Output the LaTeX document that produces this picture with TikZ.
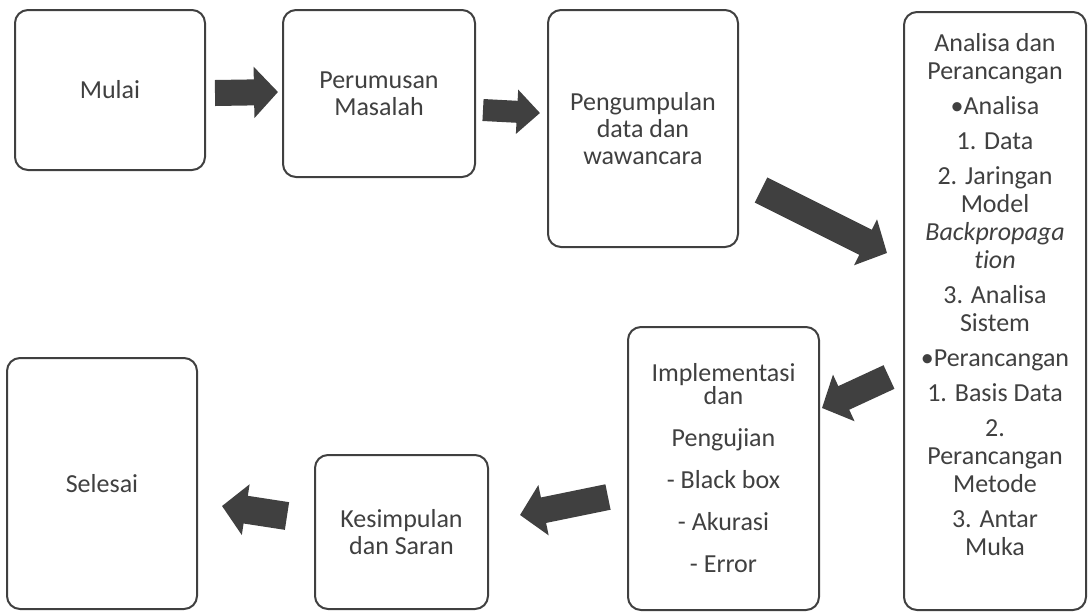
\documentclass[tikz,border=0pt]{standalone}
\usepackage{fontspec}
\setmainfont{Carlito}[Ligatures=NoCommon]
\usepackage{xcolor}
\usetikzlibrary{arrows.meta,positioning}
\definecolor{inkgrey}{HTML}{404040}

\begin{document}
\begin{tikzpicture}[
  x=0.5pt, y=-0.5pt,
  stage/.style={rectangle, draw=inkgrey, line width=1pt, rounded corners=6.5pt, align=center, text=inkgrey, font=\fontsize{13}{13.5}\selectfont},
  stagetext/.style={inner sep=0pt, align=center, text=inkgrey},
  blockarrow/.style={draw=inkgrey, line width=13pt, -{Triangle[length=12pt, width=25pt]}}
]
  \useasboundingbox (0,0) rectangle (1088,612);

  \node[stage, minimum width=95pt, minimum height=80pt] (mulai) at (110,90) {Mulai};
  \node[stage, minimum width=96pt, minimum height=83.5pt] (perumusan) at (379,93.5) {Perumusan\\Masalah};
  \node[stage, minimum width=95pt, minimum height=118.5pt] (pengumpulan) at (643,128.5) {Pengumpulan\\data dan\\wawancara};
  \node[stage, minimum width=91pt, minimum height=299pt] (analisa) at (995,311) {};
  \node[stagetext, font=\fontsize{13}{14}\selectfont, below=11pt of analisa.north] (analisaIsi) {Analisa dan\\Perancangan\\[3.5pt]
    •Analisa\\[3.5pt]
    1. Data\\[3.5pt]
    2. Jaringan\\Model\\\textit{Backpropaga}\\\textit{tion}\\[3.5pt]
    3. Analisa\\Sistem\\[3.5pt]
    •Perancangan\\[3.5pt]
    1. Basis Data\\[3.5pt]
    2.\\Perancangan\\Metode\\[3.5pt]
    3. Antar\\Muka};
  \node[stage, minimum width=95.5pt, minimum height=141.5pt, font=\fontsize{13}{11.5}\selectfont] (implementasi) at (723.5,468.5) {Implementasi\\dan\\[9.5pt]Pengujian\\[9.5pt]- Black box\\[9.5pt]- Akurasi\\[9.5pt]- Error};
  \node[stage, minimum width=86.5pt, minimum height=77pt] (kesimpulan) at (401.5,532) {Kesimpulan\\dan Saran};
  \node[stage, minimum width=95pt, minimum height=125.5pt] (selesai) at (102,483.5) {Selesai};

  \coordinate (m1) at (215,93);
  \coordinate (m2) at (278,92);
  \coordinate (p1) at (483,110);
  \coordinate (p2) at (540,113);
  \coordinate (k1) at (761,190);
  \coordinate (k2) at (887,253);
  \coordinate (a1) at (889,377);
  \coordinate (a2) at (822,408);
  \coordinate (i1) at (608,497);
  \coordinate (i2) at (520,515);
  \coordinate (s1) at (287,516);
  \coordinate (s2) at (222,506);

  \draw[blockarrow] (m1) -- (m2);
  \draw[blockarrow, line width=11pt, -{Triangle[length=11.5pt, width=21.5pt]}] (p1) -- (p2);
  \draw[blockarrow, line width=14pt] (k1) -- (k2);
  \draw[blockarrow] (a1) -- (a2);
  \draw[blockarrow] (i1) -- (i2);
  \draw[blockarrow, line width=14pt] (s1) -- (s2);
\end{tikzpicture}
\end{document}
